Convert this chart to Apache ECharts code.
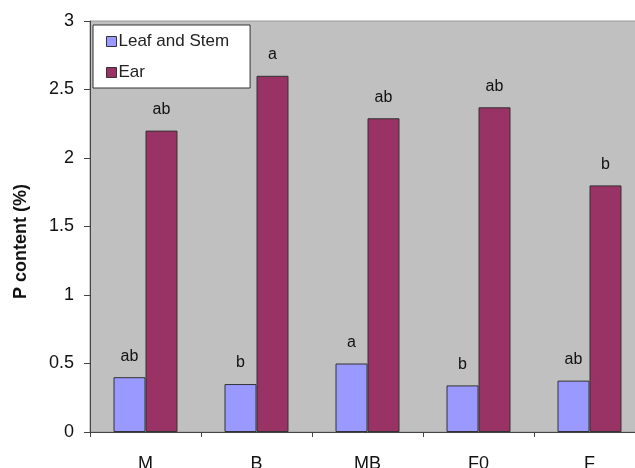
<!DOCTYPE html>
<html>
<head>
<meta charset="utf-8">
<script src="https://cdn.jsdelivr.net/npm/echarts@6/dist/echarts.min.js"></script>
<style>html,body{margin:0;padding:0;background:#fff}#c{width:635px;height:468px}</style>
</head>
<body>
<div id="c"></div>
<script>
var categories = ['M', 'B', 'MB', 'F0', 'F'];
var leafStem = [0.40, 0.35, 0.50, 0.34, 0.375];
var ear = [2.20, 2.60, 2.29, 2.37, 1.80];
var leafLetters = ['ab', 'b', 'a', 'b', 'ab'];
var earLetters = ['ab', 'a', 'ab', 'ab', 'b'];
var yTicks = [0, 0.5, 1, 1.5, 2, 2.5, 3];

var chart = echarts.init(document.getElementById('c'));
var font = 'Arial, "Liberation Sans", sans-serif';
function labelFor(letters) {
  return {
    show: true, position: 'top', distance: 13,
    fontFamily: font, fontSize: 16, color: '#111',
    formatter: function (p) { return letters[p.dataIndex]; }
  };
}
chart.setOption({
  animation: false,
  backgroundColor: '#fff',
  grid: { left: 90, top: 21, right: -10, bottom: 36, outerBoundsMode: 'none', containLabel: false,
    show: true, backgroundColor: '#C0C0C0', borderColor: '#9a9a9a', borderWidth: 1 },
  legend: {
    orient: 'vertical', left: 93, top: 25,
    backgroundColor: '#fff', borderColor: '#333', borderWidth: 1,
    padding: [8, 21, 7, 13], itemGap: 14, itemWidth: 10, itemHeight: 10,
    icon: 'rect',
    itemStyle: { borderColor: '#333', borderWidth: 1 },
    textStyle: { fontFamily: font, fontSize: 17, color: '#222', padding: [0, 0, 0, -3] },
    data: ['Leaf and Stem', 'Ear']
  },
  xAxis: {
    type: 'category', data: categories,
    axisLine: { lineStyle: { color: '#444', width: 1 } },
    axisTick: { show: true, length: 5, lineStyle: { color: '#444' } },
    axisLabel: { fontFamily: font, fontSize: 18, color: '#111', margin: 23 }
  },
  yAxis: {
    type: 'value', min: 0, max: 3, interval: 0.5,
    name: 'P content (%)', nameLocation: 'middle', nameGap: 60, nameRotate: 90,
    nameTextStyle: { fontFamily: font, fontSize: 18, fontWeight: 'bold', color: '#111', padding: [0, 0, 0, -30] },
    axisLine: { show: true, lineStyle: { color: '#444', width: 1 } },
    axisTick: { show: true, length: 6, lineStyle: { color: '#444' } },
    splitLine: { show: false },
    axisLabel: { fontFamily: font, fontSize: 18, color: '#111', margin: 16,
      formatter: function (v) { return yTicks.indexOf(v) >= 0 ? String(v) : ''; } }
  },
  series: [
    { name: 'Leaf and Stem', type: 'bar', data: leafStem, barWidth: 32, barGap: '0%',
      itemStyle: { color: '#9999FF', borderColor: '#333', borderWidth: 1 },
      label: labelFor(leafLetters) },
    { name: 'Ear', type: 'bar', data: ear, barWidth: 32,
      itemStyle: { color: '#993366', borderColor: '#333', borderWidth: 1 },
      label: labelFor(earLetters) }
  ]
});
</script>
</body>
</html>
